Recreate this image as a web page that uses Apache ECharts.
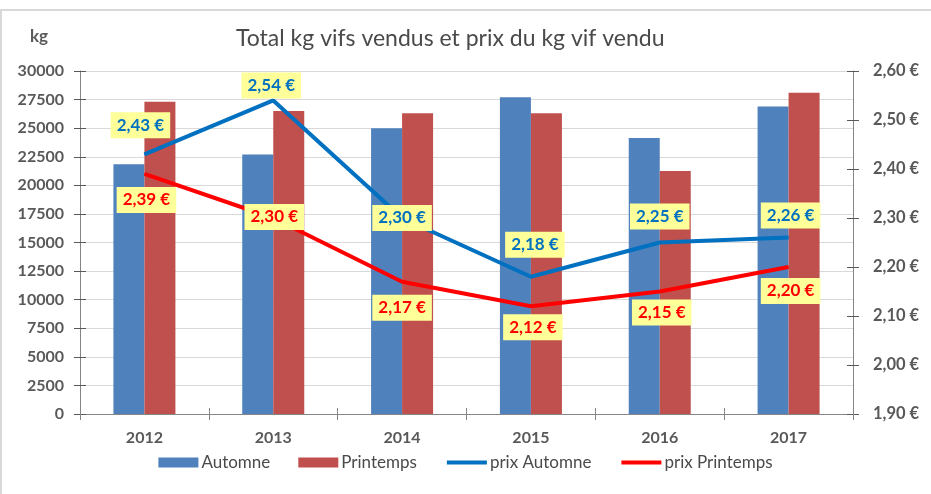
<!DOCTYPE html>
<html>
<head>
<meta charset="utf-8">
<script src="https://cdn.jsdelivr.net/npm/echarts@6/dist/echarts.min.js"></script>
<style>
html,body{margin:0;padding:0;background:#fff;}
#chart{width:931px;height:494px;}
</style>
</head>
<body>
<div id="chart"></div>
<script>
// ---- data ----
const years = ['2012', '2013', '2014', '2015', '2016', '2017'];
const kgAutomne = [21850, 22700, 25000, 27700, 24150, 26900];
const kgPrintemps = [27300, 26500, 26300, 26300, 21250, 28100];
const prixAutomne = [2.43, 2.54, 2.30, 2.18, 2.25, 2.26];
const prixPrintemps = [2.39, 2.30, 2.17, 2.12, 2.15, 2.20];
const kgTicks = {min: 0, max: 30000, interval: 2500};
const prixTicks = {min: 1.9, max: 2.6, interval: 0.1};

// ---- label placement (layout only) ----
const offAutomne = [[-4, -29], [-2, -15], [0, 0], [4, -32], [0, -26], [2, -22]];
const offPrintemps = [[2, 26], [1, -1], [0, 26], [2, 21], [2, 21], [2, 24]];

const FONT = 'Lato';
const GREY = '#595959';
const euro = v => v.toFixed(2).replace('.', ',') + ' €';

function lineData(vals, offs) {
  return vals.map((v, i) => ({value: v, label: {offset: offs[i]}}));
}
function lineLabel(color) {
  return {
    show: true, position: 'inside', formatter: p => euro(p.value),
    color: color, fontFamily: FONT, fontWeight: 'bold', fontSize: 17,
    backgroundColor: '#FFFF99', padding: [5, 6, 4, 6]
  };
}
const axisLineStyle = {color: '#868686', width: 1};
function yBase(t) {
  return {type: 'value', min: t.min, max: t.max, interval: t.interval};
}

const chart = echarts.init(document.getElementById('chart'), null, {renderer: 'canvas'});
chart.setOption({
  backgroundColor: '#ffffff',
  animation: false,
  title: {
    text: 'Total kg vifs vendus et prix du kg vif vendu',
    left: 231, top: 22,
    textStyle: {fontFamily: FONT, fontSize: 23, fontWeight: 'normal', color: '#4a4a4a'}
  },
  graphic: [
    {type: 'text', left: 30, top: 28, style: {text: 'kg', font: 'bold 17px ' + FONT, fill: GREY}},
    {type: 'line', shape: {x1: 0, y1: 10, x2: 931, y2: 10}, style: {stroke: '#D9D9D9', lineWidth: 2}},
    {type: 'line', shape: {x1: 1, y1: 10, x2: 1, y2: 494}, style: {stroke: '#D9D9D9', lineWidth: 2}}
  ],
  legend: {
    bottom: 18, left: 'center',
    itemWidth: 40, itemHeight: 10, itemGap: 28,
    textStyle: {fontFamily: FONT, fontSize: 17, color: '#4a4a4a', padding: [0, 0, 0, -2]},
    data: [
      {name: 'Automne', icon: 'rect'},
      {name: 'Printemps', icon: 'rect'},
      {name: 'prix Automne', itemStyle: {opacity: 0}, lineStyle: {width: 4}},
      {name: 'prix Printemps', itemStyle: {opacity: 0}, lineStyle: {width: 4}}
    ]
  },
  grid: {left: 80, right: 78, top: 71, bottom: 80, containLabel: false},
  xAxis: [
    {
      type: 'category', data: years,
      axisLine: {lineStyle: axisLineStyle},
      axisTick: {show: true, length: 6, lineStyle: {color: '#868686'}},
      axisLabel: {fontFamily: FONT, fontWeight: 'bold', fontSize: 16, color: GREY, margin: 16}
    },
    {
      type: 'category', data: years, position: 'bottom',
      axisLine: {show: false},
      axisTick: {show: true, inside: true, length: 6, lineStyle: {color: '#868686'}},
      axisLabel: {show: false}
    }
  ],
  yAxis: [
    Object.assign(yBase(kgTicks), {
      position: 'left',
      axisLine: {show: true, lineStyle: axisLineStyle},
      axisTick: {show: true, length: 6, lineStyle: {color: '#595959'}},
      axisLabel: {fontFamily: FONT, fontWeight: 'bold', fontSize: 16, color: GREY, margin: 16,
                  formatter: v => String(v)},
      splitLine: {show: true, lineStyle: {color: '#D9D9D9', width: 1}}
    }),
    Object.assign(yBase(prixTicks), {
      position: 'right',
      axisLine: {show: true, lineStyle: axisLineStyle},
      axisTick: {show: true, length: 6, lineStyle: {color: '#595959'}},
      axisLabel: {fontFamily: FONT, fontWeight: 'bold', fontSize: 16.5, color: GREY, margin: 20, formatter: euro},
      splitLine: {show: false}
    }),
    Object.assign(yBase(kgTicks), {
      position: 'left',
      axisLine: {show: false},
      axisTick: {show: true, inside: true, length: 6, lineStyle: {color: '#595959'}},
      axisLabel: {show: false}, splitLine: {show: false}
    }),
    Object.assign(yBase(prixTicks), {
      position: 'right',
      axisLine: {show: false},
      axisTick: {show: true, inside: true, length: 6, lineStyle: {color: '#595959'}},
      axisLabel: {show: false}, splitLine: {show: false}
    })
  ],
  series: [
    {
      name: 'Automne', type: 'bar', yAxisIndex: 0, data: kgAutomne,
      barWidth: 31, barGap: '0%', itemStyle: {color: '#4F81BD'}
    },
    {
      name: 'Printemps', type: 'bar', yAxisIndex: 0, data: kgPrintemps,
      barWidth: 31, barGap: '0%', itemStyle: {color: '#C0504D'}
    },
    {
      name: 'prix Automne', type: 'line', yAxisIndex: 1, z: 5,
      data: lineData(prixAutomne, offAutomne),
      symbol: 'circle', symbolSize: 1, showSymbol: true,
      lineStyle: {color: '#0070C0', width: 4}, itemStyle: {color: '#0070C0'},
      label: lineLabel('#0070C0')
    },
    {
      name: 'prix Printemps', type: 'line', yAxisIndex: 1, z: 5,
      data: lineData(prixPrintemps, offPrintemps),
      symbol: 'circle', symbolSize: 1, showSymbol: true,
      lineStyle: {color: '#FF0000', width: 4}, itemStyle: {color: '#FF0000'},
      label: lineLabel('#FF0000')
    }
  ]
});
</script>
</body>
</html>
